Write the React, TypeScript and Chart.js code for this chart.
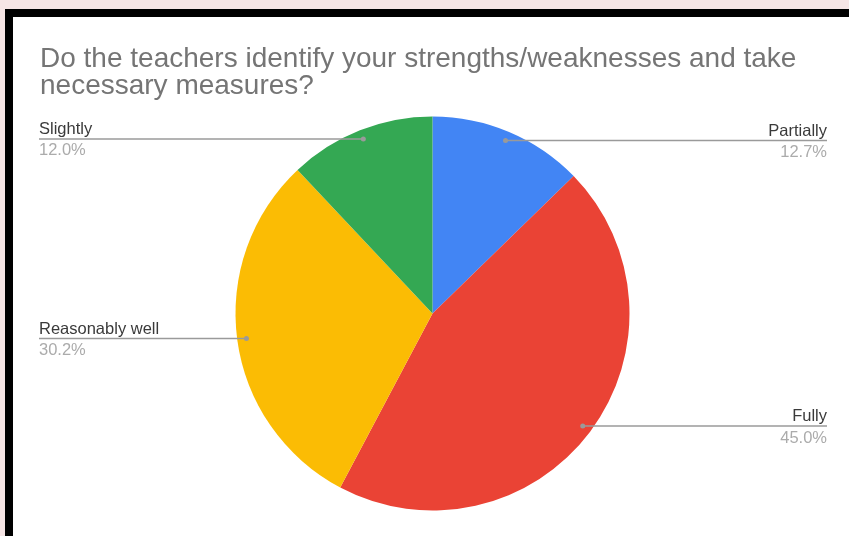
import React, { useEffect, useRef } from "react";
import { Chart, registerables } from "chart.js";

Chart.register(...registerables);

const titleLines = [
  "Do the teachers identify your strengths/weaknesses and take",
  "necessary measures?",
];
const categories = ["Partially", "Fully", "Reasonably well", "Slightly"];
const values = [12.7, 45.0, 30.2, 12.0];
const colors = ["#4285f4", "#ea4335", "#fbbc04", "#34a853"];

const FONT = '"Liberation Sans", Arial, sans-serif';

const labelPlugin = {
  id: "sheetLabels",
  afterDraw(chart: any) {
    const ctx = chart.ctx as CanvasRenderingContext2D;
    ctx.save();
    // title
    ctx.fillStyle = "#757575";
    ctx.font = `28px ${FONT}`;
    ctx.textAlign = "left";
    ctx.textBaseline = "alphabetic";
    titleLines.forEach((t, i) => ctx.fillText(t, 40, 66.5 + i * 27.6));

    const meta = chart.getDatasetMeta(0);
    meta.data.forEach((arc: any, i: number) => {
      const p = arc.getProps(["x", "y", "startAngle", "endAngle", "outerRadius"], true);
      const mid = (p.startAngle + p.endAngle) / 2;
      const r = p.outerRadius * 0.953;
      const dx = p.x + r * Math.cos(mid);
      const dy = p.y + r * Math.sin(mid);
      const right = Math.cos(mid) >= 0;
      const endX = right ? 827 : 39;
      ctx.strokeStyle = "#9a9a9a";
      ctx.lineWidth = 1.5;
      ctx.beginPath();
      ctx.moveTo(dx, dy);
      ctx.lineTo(endX, dy);
      ctx.stroke();
      ctx.fillStyle = "#9a9a9a";
      ctx.beginPath();
      ctx.arc(dx, dy, 2.5, 0, Math.PI * 2);
      ctx.fill();
      ctx.textAlign = right ? "right" : "left";
      ctx.font = `16.5px ${FONT}`;
      ctx.fillStyle = "#3a3a3a";
      ctx.fillText(categories[i], endX, dy - 5);
      ctx.fillStyle = "#ababab";
      ctx.fillText(values[i].toFixed(1) + "%", endX, dy + 16.5);
    });
    ctx.restore();
  },
};

export default function App() {
  const ref = useRef<HTMLCanvasElement>(null);
  useEffect(() => {
    if (!ref.current) return;
    const chart = new Chart(ref.current, {
      type: "pie",
      data: {
        labels: categories,
        datasets: [
          {
            data: values,
            backgroundColor: colors,
            borderWidth: 0,
          },
        ],
      },
      options: {
        responsive: false,
        animation: false,
        layout: { padding: { left: 16, right: 0, top: 116.5, bottom: 25.5 } },
        plugins: {
          legend: { display: false },
          tooltip: { enabled: false },
          title: { display: false },
        },
      },
      plugins: [labelPlugin],
    });
    return () => chart.destroy();
  }, []);

  return (
    <div
      style={{
        position: "absolute",
        left: 0,
        top: 0,
        width: 849,
        height: 536,
        background: "#f6e5e5",
        overflow: "hidden",
      }}
    >
      <div
        style={{
          position: "absolute",
          left: 5,
          top: 9,
          right: 0,
          bottom: 0,
          background: "#ffffff",
          borderLeft: "8px solid #000",
          borderTop: "8px solid #000",
        }}
      />
      <canvas
        ref={ref}
        width={849}
        height={536}
        style={{ position: "absolute", left: 0, top: 0, width: 849, height: 536 }}
      />
    </div>
  );
}
